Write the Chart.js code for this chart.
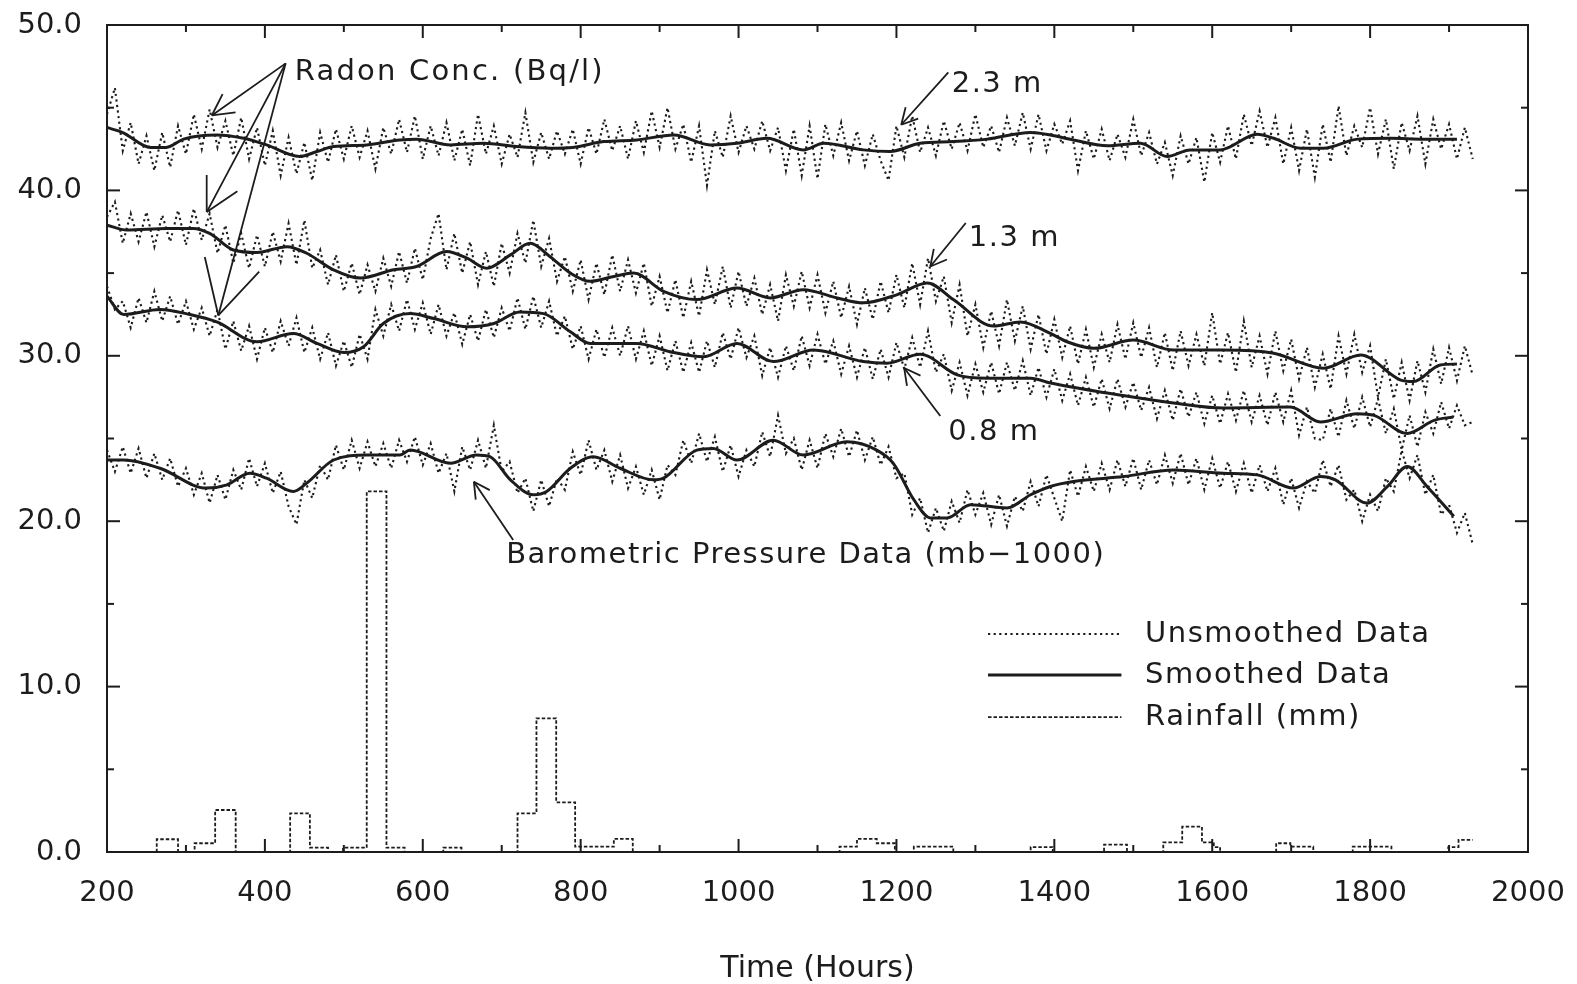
<!DOCTYPE html>
<html><head><meta charset="utf-8">
<script src="https://cdn.jsdelivr.net/npm/chart.js@4.4.0/dist/chart.umd.min.js"></script>
<style>html,body{margin:0;padding:0;background:#fff;}canvas{display:block;}</style>
</head><body>
<canvas id="c" width="1577" height="984"></canvas>
<script>
// ---------- DATA ----------
const xTickLabels = [200, 400, 600, 800, 1000, 1200, 1400, 1600, 1800, 2000];
const yTickLabels = [0, 10, 20, 30, 40, 50];

// unsmoothed series: one value every 10 hours starting at 200 h
const rawStart = 200, rawStep = 10;
const raw23 = [44.6,46.2,42.4,44.1,41.6,43.3,41.2,43.5,41.4,43.9,
42.2,44.6,42.5,44.9,42.6,44.2,42.1,44.4,41.9,43.8,
41.5,43.6,40.9,43.2,41.0,42.9,40.6,43.5,41.7,43.7,
41.9,43.9,42.0,43.6,41.3,43.8,42.2,44.3,42.3,44.5,
41.9,43.9,42.1,44.1,41.8,43.7,41.5,44.6,42.2,43.9,
41.6,43.4,42.0,44.7,41.7,43.5,41.9,43.6,42.2,43.7,
41.6,43.8,42.2,44.3,42.4,43.9,41.9,44.2,42.3,44.8,
42.6,45.0,42.5,44.0,41.7,43.9,40.3,43.6,42.0,44.5,
42.3,43.9,42.5,44.2,42.4,43.8,41.2,43.7,40.9,43.9,
40.7,44.0,42.1,44.1,41.8,43.6,41.5,43.4,41.8,40.6,
43.9,42.0,44.5,42.3,43.8,42.1,44.2,42.5,44.1,42.4,
44.6,42.6,43.9,42.3,44.4,42.7,44.7,42.5,44.6,42.4,
44.0,42.8,44.2,41.2,43.6,41.9,43.7,41.8,43.4,42.0,
44.3,42.1,43.5,41.6,42.9,40.9,43.3,41.6,43.2,40.5,
43.5,41.7,43.9,41.9,44.6,42.7,44.8,42.6,44.4,41.6,
43.8,41.2,43.7,40.8,44.0,41.7,45.1,42.1,43.9,42.6,
45.0,42.2,44.3,41.3,44.1,42.4,44.5,41.6,44.3,42.5,
44.0,41.9,43.8,41.9];
const raw13 = [38.4,39.3,36.8,38.6,36.9,38.7,36.6,38.5,36.9,38.8,
36.7,38.9,37.0,38.6,36.2,37.9,35.6,37.4,35.3,37.3,
35.4,37.5,35.7,38.0,35.5,38.2,35.3,36.4,34.3,36.1,
33.9,35.6,33.7,35.5,33.9,35.9,34.2,36.3,34.4,36.5,
34.6,37.1,38.6,35.2,37.4,35.0,36.9,34.3,36.3,34.2,
36.8,35.0,37.4,35.6,38.2,35.4,37.1,34.5,36.0,33.9,
35.8,33.4,35.6,33.7,36.1,33.9,35.8,33.8,35.6,33.0,
34.8,32.6,34.6,32.3,34.5,32.4,35.2,33.1,35.4,32.9,
35.1,33.0,34.7,32.5,34.3,32.1,34.9,33.0,35.1,32.9,
34.9,32.6,34.5,32.3,34.2,31.9,34.1,32.2,34.5,32.6,
34.9,32.9,35.6,33.1,35.9,33.3,34.8,32.0,34.3,31.2,
33.1,30.5,32.7,30.6,33.4,30.9,33.0,30.4,32.5,30.1,
32.2,29.9,31.8,29.5,31.6,29.3,31.3,29.6,31.9,29.8,
32.0,29.9,31.7,29.3,31.4,29.1,31.5,29.4,31.3,29.4,
32.6,29.5,31.4,29.0,32.1,29.3,31.2,28.9,31.5,29.1,
31.0,28.6,30.5,28.1,30.1,28.0,31.2,28.9,31.3,29.0,
30.6,27.5,29.8,27.4,29.6,27.3,29.7,27.8,30.4,28.3,
30.5,28.5,30.6,28.8];
const raw08 = [34.2,32.8,33.3,31.7,33.5,32.0,33.9,32.1,33.6,31.9,
33.3,31.6,32.9,31.2,32.8,30.4,32.1,30.3,31.8,29.8,
31.7,30.2,32.1,30.6,32.3,30.2,31.7,29.8,31.4,29.4,
30.9,29.3,31.3,29.8,32.8,31.2,33.1,31.5,33.4,31.6,
33.2,31.3,33.1,31.2,32.6,30.7,32.5,30.9,32.8,31.1,
32.9,31.5,33.5,31.6,33.6,31.7,33.3,31.2,32.4,30.4,
31.8,29.8,31.6,29.9,31.7,30.0,31.8,29.8,31.5,29.4,
31.2,29.1,30.9,29.0,30.8,29.0,30.9,29.3,31.4,29.8,
31.7,29.9,31.2,28.8,30.5,28.7,30.6,29.1,31.2,29.4,
31.3,29.5,30.9,28.9,30.6,28.7,30.5,28.6,30.4,28.7,
30.8,29.2,31.1,29.3,31.5,29.0,30.1,27.9,29.6,27.6,
29.5,27.8,29.6,27.7,29.6,27.9,29.7,27.6,29.3,27.5,
29.2,27.3,28.9,27.0,28.7,26.9,28.6,26.8,28.6,26.9,
28.4,26.7,28.1,26.2,27.9,26.1,28.0,26.3,27.8,25.9,
27.6,25.9,27.7,26.1,27.9,26.0,27.6,25.8,27.8,26.0,
27.9,25.2,26.9,25.0,24.9,26.8,25.1,27.3,25.6,27.5,
25.7,27.4,25.3,26.8,24.3,26.4,24.5,26.6,25.3,27.2,
25.6,27.0,25.8,26.0];
const rawBaro = [24.3,23.0,24.5,22.9,24.4,22.6,24.1,22.5,23.8,22.1,
23.2,21.6,22.9,21.1,22.8,21.3,23.1,21.9,23.8,22.1,
23.5,21.7,23.0,20.9,19.8,22.5,21.4,23.4,22.5,24.6,
23.1,24.9,23.2,24.8,23.3,24.7,23.2,24.9,23.6,25.1,
23.4,24.7,22.9,24.1,21.8,24.5,23.1,24.9,23.2,25.8,
23.0,23.6,21.7,22.6,20.6,22.5,20.9,22.6,21.9,24.2,
22.8,24.9,23.1,24.3,22.4,24.0,22.0,23.3,21.6,23.1,
21.3,23.4,22.8,24.9,23.5,25.3,23.6,25.1,23.0,24.6,
22.7,24.3,23.3,25.4,23.9,26.4,24.1,25.0,23.1,24.9,
23.2,25.3,23.9,25.6,23.9,25.5,23.7,25.1,23.4,24.5,
22.6,22.9,20.4,21.4,19.3,20.8,19.4,21.2,19.9,21.9,
20.4,21.7,19.8,21.6,19.7,21.5,20.6,22.4,20.9,22.8,
21.4,20.0,23.1,21.5,23.3,21.8,23.5,21.9,23.7,22.1,
23.8,21.9,23.7,22.2,24.0,22.3,24.1,22.2,23.8,21.9,
23.8,22.0,23.6,21.8,23.5,21.7,23.4,21.8,23.2,21.0,
22.6,20.8,22.4,21.7,23.7,22.1,23.4,21.3,21.9,20.0,
21.6,20.6,22.6,21.8,24.3,22.6,24.0,21.6,22.8,20.4,
21.0,19.3,20.5,18.6];

// smoothed series
const sm23Hours = [200,220,255,275,297,339,373,402,444,466,487,529,571,592,635,677,719,761,790,829,871,918,964,998,1036,1082,1108,1158,1192,1230,1272,1315,1370,1395,1424,1467,1509,1543,1572,1610,1657,1678,1712,1741,1784,1826,1868,1910];
const sm23 = [43.8,43.5,42.6,42.6,43.1,43.35,43.15,42.75,42.05,42.35,42.65,42.75,43.05,43.1,42.75,42.85,42.65,42.55,42.6,42.95,43.05,43.35,42.75,42.85,43.15,42.45,42.85,42.45,42.35,42.85,42.95,43.1,43.5,43.35,43.05,42.7,42.85,42.05,42.45,42.45,43.4,43.15,42.55,42.55,43.1,43.15,43.1,43.1];
const sm13Hours = [200,225,276,309,330,360,390,428,453,487,521,563,592,630,656,681,711,736,761,787,812,842,867,905,947,998,1040,1082,1125,1158,1201,1239,1272,1323,1357,1395,1416,1450,1500,1551,1614,1678,1741,1788,1838,1855,1889,1910];
const sm13 = [37.9,37.6,37.7,37.7,37.4,36.4,36.25,36.6,36.2,35.2,34.7,35.2,35.4,36.3,35.9,35.3,36.1,36.8,36.0,35.0,34.5,34.8,35.0,33.9,33.4,34.1,33.5,34.0,33.5,33.2,33.7,34.4,33.4,31.8,32.05,31.35,30.85,30.45,30.95,30.35,30.35,30.15,29.25,30.05,28.55,28.45,29.45,29.5];
const sm08Hours = [200,221,267,305,339,390,436,466,500,525,550,584,614,656,690,723,753,787,812,871,913,956,998,1044,1095,1158,1188,1230,1277,1315,1370,1395,1467,1551,1614,1699,1737,1784,1805,1847,1881,1905];
const sm08 = [33.6,32.5,32.8,32.5,32.05,30.85,31.35,30.75,30.2,30.55,31.95,32.55,32.25,31.75,31.95,32.65,32.55,31.45,30.75,30.75,30.25,29.95,30.75,29.65,30.35,29.65,29.55,30.1,28.85,28.65,28.65,28.35,27.75,27.15,26.85,26.9,26.0,26.5,26.4,25.3,26.1,26.3];
const smBaroHours = [200,221,267,326,352,381,402,436,453,487,529,571,584,635,668,685,711,740,757,787,816,850,892,905,947,968,998,1044,1082,1137,1175,1196,1222,1243,1264,1294,1340,1370,1395,1424,1488,1551,1614,1657,1703,1737,1756,1796,1822,1847,1872,1906];
const smBaro = [23.7,23.7,23.2,22.0,22.2,22.9,22.6,21.8,22.3,23.7,24.0,24.0,24.3,23.5,24.0,23.9,22.5,21.6,21.8,23.2,23.9,23.2,22.5,22.6,24.3,24.4,23.7,24.9,24.0,24.8,24.3,23.5,21.3,20.2,20.2,21.0,20.8,21.6,22.1,22.4,22.7,23.1,22.9,22.8,22.0,22.7,22.5,21.1,22.1,23.3,22.1,20.3];

// rainfall (step: value holds from each hour to the next)
const rainHours = [200,263,290,311,337,363,432,457,480,499,529,554,577,626,649,720,744,769,793,842,866,1128,1150,1175,1198,1222,1272,1370,1398,1463,1492,1538,1562,1587,1602,1610,1681,1699,1728,1778,1827,1899,1912,1930];
const rainMm = [0,0.77,0,0.53,2.54,0,2.34,0.26,0,0.26,21.8,0.26,0,0.26,0,2.34,8.08,3.0,0.32,0.79,0,0.32,0.79,0.53,0,0.32,0,0.3,0,0.45,0,0.58,1.53,0.58,0.3,0,0.53,0.32,0,0.32,0,0.3,0.73,0.73];

const legendLabels = ['Unsmoothed Data', 'Smoothed Data', 'Rainfall (mm)'];

// ---------- CHART ----------
const INK = '#1c1c1c';
const FONT = "'DejaVu Sans', 'Liberation Sans', sans-serif";
const rawPts = arr => arr.map((v, i) => ({x: rawStart + i * rawStep, y: v}));
const pts = (hs, vs) => hs.map((h, i) => ({x: h, y: vs[i]}));

const RAW_W = 2.1, RAW_DASH = [2.2, 3.4];
const RAIN_W = 1.8, RAIN_DASH = [3.5, 2];
const rawStyle = {borderColor: INK, borderWidth: RAW_W, borderDash: RAW_DASH, pointRadius: 0, tension: 0, order: 2};
const smStyle = {borderColor: INK, borderWidth: 3, pointRadius: 0, cubicInterpolationMode: 'monotone', order: 1};

const datasets = [
  {label: 'raw 2.3 m', data: rawPts(raw23), ...rawStyle},
  {label: 'raw 1.3 m', data: rawPts(raw13), ...rawStyle},
  {label: 'raw 0.8 m', data: rawPts(raw08), ...rawStyle},
  {label: 'raw baro', data: rawPts(rawBaro), ...rawStyle},
  {label: 'sm 2.3 m', data: pts(sm23Hours, sm23), ...smStyle},
  {label: 'sm 1.3 m', data: pts(sm13Hours, sm13), ...smStyle},
  {label: 'sm 0.8 m', data: pts(sm08Hours, sm08), ...smStyle},
  {label: 'sm baro', data: pts(smBaroHours, smBaro), ...smStyle},
  {label: 'rain', data: pts(rainHours, rainMm), borderColor: INK, borderWidth: RAIN_W, borderDash: RAIN_DASH, pointRadius: 0, stepped: 'before', order: 3}
];

// annotations (anchor points in data units)
const notes = [
  {text: 'Radon Conc. (Bq/l)', at: [437.8, 47.13], spacing: 2.2, arrows: [
     {from: [426.3, 47.68], to: [332.7, 44.53], head: 24},
     {from: [426.3, 47.68], to: [326.3, 38.69], head: 37},
     {from: [426.3, 47.68], to: [341.0, 32.44], head: 60}]},
  {text: '2.3 m', at: [1270, 46.4], spacing: 1.5, arrows: [{from: [1265.7, 47.13], to: [1206.1, 43.97], head: 18}]},
  {text: '1.3 m', at: [1291.7, 37.1], spacing: 1.5, arrows: [{from: [1287.8, 38.03], to: [1242.9, 35.4], head: 18}]},
  {text: '0.8 m', at: [1265.7, 25.36], spacing: 1.5, arrows: [{from: [1255.5, 26.36], to: [1209.8, 29.26], head: 18}]},
  {text: 'Barometric Pressure Data (mb\u22121000)', at: [705.6, 17.9], spacing: 1.5, arrows: [{from: [714.5, 18.86], to: [664.7, 22.39], head: 18}]}
];
const legendAnchor = {x0: 1316, x1: 1485, xt: 1515, ys: [13.18, 10.7, 8.16]};

const overlay = {
  id: 'overlay',
  afterDraw(chart) {
    const {ctx, chartArea: a, scales: {x, y}} = chart;
    const X = v => x.getPixelForValue(v), Y = v => y.getPixelForValue(v);
    ctx.save();
    ctx.strokeStyle = INK; ctx.fillStyle = INK; ctx.lineCap = 'butt';
    ctx.lineWidth = 2;
    ctx.strokeRect(a.left, a.top, a.right - a.left, a.bottom - a.top);
    const seg = (x1, y1, x2, y2) => { ctx.beginPath(); ctx.moveTo(x1, y1); ctx.lineTo(x2, y2); ctx.stroke(); };
    for (let h = 300; h < 2000; h += 100) {
      const p = X(h), L = (h % 200 === 0) ? 13 : 7;
      seg(p, a.bottom, p, a.bottom - L); seg(p, a.top, p, a.top + L);
    }
    for (let v = 5; v < 50; v += 5) {
      const p = Y(v), L = (v % 10 === 0) ? 13 : 7;
      seg(a.left, p, a.left + L, p); seg(a.right, p, a.right - L, p);
    }
    ctx.font = '29px ' + FONT;
    ctx.textBaseline = 'middle'; ctx.textAlign = 'left';
    ctx.lineWidth = 1.8;
    for (const n of notes) {
      ctx.letterSpacing = n.spacing + 'px';
      ctx.fillText(n.text, X(n.at[0]), Y(n.at[1]));
      for (const ar of n.arrows) {
        const x1 = X(ar.from[0]), y1 = Y(ar.from[1]), x2 = X(ar.to[0]), y2 = Y(ar.to[1]);
        seg(x1, y1, x2, y2);
        const ang = Math.atan2(y1 - y2, x1 - x2), w = 28 * Math.PI / 180;
        seg(x2, y2, x2 + ar.head * Math.cos(ang + w), y2 + ar.head * Math.sin(ang + w));
        seg(x2, y2, x2 + ar.head * Math.cos(ang - w), y2 + ar.head * Math.sin(ang - w));
      }
    }
    ctx.letterSpacing = '1.5px';
    const L = legendAnchor;
    const styles = [{w: RAW_W, d: RAW_DASH}, {w: 3, d: []}, {w: RAIN_W, d: RAIN_DASH}];
    legendLabels.forEach((t, i) => {
      const yy = Y(L.ys[i]);
      ctx.lineWidth = styles[i].w; ctx.setLineDash(styles[i].d);
      seg(X(L.x0), yy, X(L.x1), yy);
      ctx.setLineDash([]);
      ctx.fillText(t, X(L.xt), yy);
    });
    ctx.restore();
  }
};

new Chart(document.getElementById('c'), {
  type: 'line',
  data: {datasets},
  options: {
    responsive: false, animation: false, devicePixelRatio: 1,
    layout: {padding: {left: 0, right: 49, top: 25, bottom: 0}},
    plugins: {legend: {display: false}, tooltip: {enabled: false}},
    scales: {
      x: {
        type: 'linear', min: 200, max: 2000,
        afterFit: s => { s.height = 132; s.paddingLeft = 0; s.paddingRight = 0; },
        afterBuildTicks: s => { s.ticks = xTickLabels.map(v => ({value: v})); },
        grid: {display: false, drawTicks: false},
        border: {display: false},
        ticks: {color: INK, font: {family: FONT, size: 29}, padding: 24, maxRotation: 0, autoSkip: false,
                callback: v => String(v)},
        title: {display: true, text: 'Time (Hours)', color: INK, font: {family: FONT, size: 30, lineHeight: 0.9}, padding: {top: 0, bottom: 1}}
      },
      y: {
        type: 'linear', min: 0, max: 50,
        afterFit: s => { s.width = 107; s.paddingTop = 0; s.paddingBottom = 0; },
        afterBuildTicks: s => { s.ticks = yTickLabels.map(v => ({value: v})); },
        grid: {display: false, drawTicks: false},
        border: {display: false},
        ticks: {color: INK, font: {family: FONT, size: 29}, padding: 25, autoSkip: false,
                callback: v => Number(v).toFixed(1)}
      }
    }
  },
  plugins: [overlay]
});
</script>
</body></html>
